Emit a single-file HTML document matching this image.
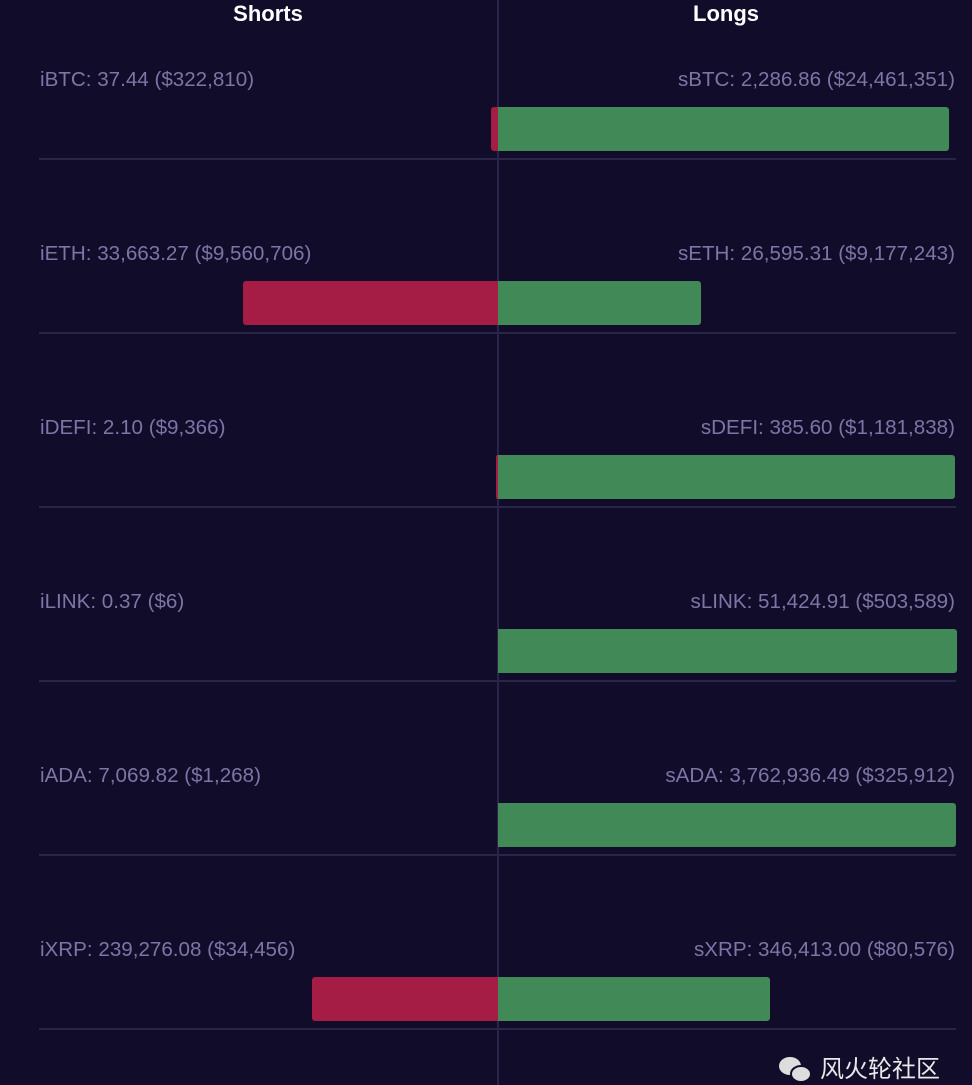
<!DOCTYPE html>
<html><head><meta charset="utf-8"><style>
body{margin:0;width:972px;height:1085px;background:#100c29;position:relative;overflow:hidden;font-family:"Liberation Sans","Noto Sans CJK SC",sans-serif}
.a{position:absolute}
.h{color:#fff;font-size:22px;font-weight:bold;top:1px;transform:translateX(-50%)}
.l{color:#7c76a6;font-size:20.6px;white-space:nowrap}
.sep{position:absolute;left:39px;width:917px;height:2px;background:#2a2548}
.r{position:absolute;background:#a51c45;height:44px;border-radius:3px 0 0 3px}
.g{position:absolute;background:#418a58;height:44px;border-radius:0 3px 3px 0}
</style></head><body>
<div class="a" style="left:497px;top:0;width:2px;height:1085px;background:#2a2548"></div>
<div class="a h" style="left:268px">Shorts</div>
<div class="a h" style="left:726px">Longs</div>

<div class="a l" style="left:40px;top:68px">iBTC: 37.44 ($322,810)</div>
<div class="a l" style="right:17px;top:68px">sBTC: 2,286.86 ($24,461,351)</div>
<div class="r" style="left:491px;width:7px;top:107px"></div>
<div class="g" style="left:498px;width:451px;top:107px"></div>
<div class="sep" style="top:158px"></div>

<div class="a l" style="left:40px;top:242px">iETH: 33,663.27 ($9,560,706)</div>
<div class="a l" style="right:17px;top:242px">sETH: 26,595.31 ($9,177,243)</div>
<div class="r" style="left:243px;width:255px;top:281px"></div>
<div class="g" style="left:498px;width:203px;top:281px"></div>
<div class="sep" style="top:332px"></div>

<div class="a l" style="left:40px;top:416px">iDEFI: 2.10 ($9,366)</div>
<div class="a l" style="right:17px;top:416px">sDEFI: 385.60 ($1,181,838)</div>
<div class="r" style="left:496px;width:2px;top:455px"></div>
<div class="g" style="left:498px;width:457px;top:455px"></div>
<div class="sep" style="top:506px"></div>

<div class="a l" style="left:40px;top:590px">iLINK: 0.37 ($6)</div>
<div class="a l" style="right:17px;top:590px">sLINK: 51,424.91 ($503,589)</div>
<div class="g" style="left:498px;width:459px;top:629px"></div>
<div class="sep" style="top:680px"></div>

<div class="a l" style="left:40px;top:764px">iADA: 7,069.82 ($1,268)</div>
<div class="a l" style="right:17px;top:764px">sADA: 3,762,936.49 ($325,912)</div>
<div class="g" style="left:498px;width:458px;top:803px"></div>
<div class="sep" style="top:854px"></div>

<div class="a l" style="left:40px;top:938px">iXRP: 239,276.08 ($34,456)</div>
<div class="a l" style="right:17px;top:938px">sXRP: 346,413.00 ($80,576)</div>
<div class="r" style="left:312px;width:186px;top:977px"></div>
<div class="g" style="left:498px;width:272px;top:977px"></div>
<div class="sep" style="top:1028px"></div>

<svg class="a" style="left:776px;top:1054px" width="40" height="30"><ellipse cx="14" cy="12" rx="11" ry="9" fill="#ddd"/><ellipse cx="25" cy="20" rx="10" ry="8" fill="#ddd" stroke="#100c29" stroke-width="2"/></svg>
<div class="a" style="left:820px;top:1052px;color:#e8e8e8;font-size:24px;line-height:30px;font-family:'Noto Sans CJK SC',sans-serif">风火轮社区</div>
</body></html>
